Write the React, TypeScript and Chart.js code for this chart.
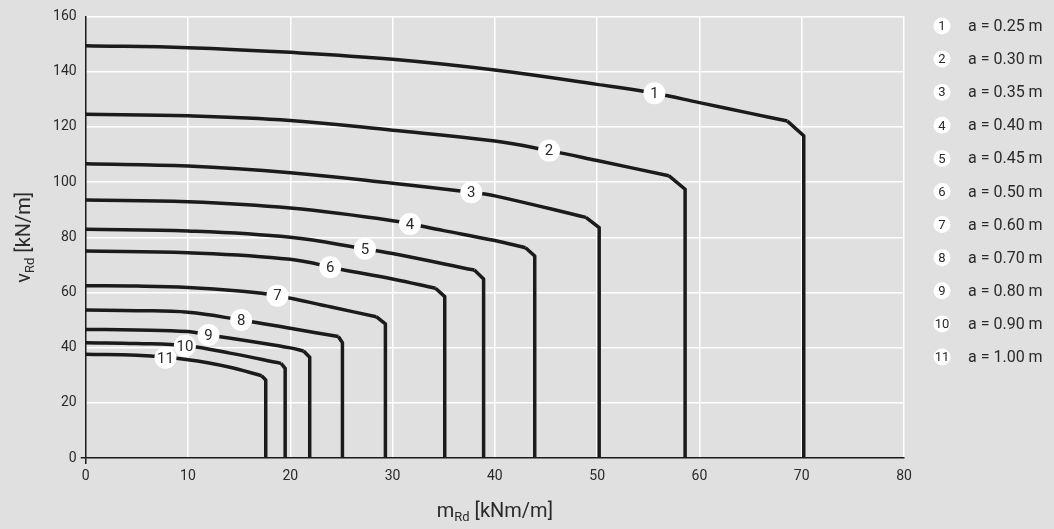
import { useEffect, useRef } from "react";
import { Chart, registerables } from "chart.js";

Chart.register(...registerables);

// Curve data: m_Rd (x) and v_Rd (y) for the curved part of each line
const curve1M = [0, 10, 20, 30, 40, 50, 55.6, 60, 65, 68.6];
const curve1V = [149.4, 148.7, 147.0, 144.5, 140.6, 135.4, 132.2, 128.8, 124.9, 122.1];
const curve2M = [0, 10, 20, 30, 40, 45.3, 50, 57.0];
const curve2V = [124.6, 124.0, 122.3, 118.8, 114.9, 111.4, 107.8, 102.3];
const curve3M = [0, 10, 20, 30, 37.7, 40, 48.9];
const curve3V = [106.6, 105.8, 103.4, 99.6, 96.3, 95.0, 87.2];
const curve4M = [0, 10, 20, 30, 35, 40, 43.0];
const curve4V = [93.5, 92.9, 90.6, 86.0, 82.4, 78.8, 76.2];
const curve5M = [0, 10, 20, 27.3, 30, 38.0];
const curve5V = [82.9, 82.3, 80.0, 75.8, 74.1, 68.1];
const curve6M = [0, 10, 20, 25, 30, 34.2];
const curve6V = [75.0, 74.4, 72.0, 68.3, 64.9, 61.5];
const curve7M = [0, 5, 10, 15, 18.75, 24, 28.4];
const curve7V = [62.4, 62.3, 61.8, 60.5, 58.8, 54.7, 51.2];
const curve8M = [0, 5, 10, 15.2, 20, 24.7];
const curve8V = [53.6, 53.4, 52.8, 50.0, 47.0, 44.0];
const curve9M = [0, 5, 10, 12, 17.3, 20, 21.3];
const curve9V = [46.6, 46.4, 45.8, 44.6, 41.6, 39.9, 38.8];
const curve10M = [0, 5, 10, 14.1, 19.1];
const curve10V = [41.8, 41.5, 40.6, 38.0, 34.3];
const curve11M = [0, 5, 10, 14.1, 17.2];
const curve11V = [37.6, 37.2, 35.6, 32.9, 29.8];

// Chamfer end points (then vertical down to 0)
const endM = [70.2, 58.6, 50.2, 43.9, 38.9, 35.1, 29.3, 25.1, 21.9, 19.5, 17.6];
const endV = [116.8, 97.4, 83.5, 73.2, 64.9, 58.5, 48.6, 41.8, 36.5, 32.5, 28.3];

// Curve numbers and where their badges sit (m_Rd position)
const curveNumbers = ["1", "2", "3", "4", "5", "6", "7", "8", "9", "10", "11"];
const labelM = [55.6, 45.3, 37.7, 31.7, 27.3, 23.9, 18.75, 15.2, 12.0, 9.7, 7.8];
const legendTexts = [
  "a = 0.25 m", "a = 0.30 m", "a = 0.35 m", "a = 0.40 m", "a = 0.45 m", "a = 0.50 m",
  "a = 0.60 m", "a = 0.70 m", "a = 0.80 m", "a = 0.90 m", "a = 1.00 m",
];

const curvesM = [curve1M, curve2M, curve3M, curve4M, curve5M, curve6M, curve7M, curve8M, curve9M, curve10M, curve11M];
const curvesV = [curve1V, curve2V, curve3V, curve4V, curve5V, curve6V, curve7V, curve8V, curve9V, curve10V, curve11V];

const FONT = "Roboto, 'Noto Sans', sans-serif";
const LINE = "#1b1b1b";
const TEXT = "#2a2a2a";
const BG = "#e0e0e0";

function interp(ms: number[], vs: number[], x: number) {
  for (let i = 0; i < ms.length - 1; i++) {
    if (x >= ms[i] && x <= ms[i + 1]) {
      const t = (x - ms[i]) / (ms[i + 1] - ms[i]);
      return vs[i] + t * (vs[i + 1] - vs[i]);
    }
  }
  return vs[vs.length - 1];
}

function drawSubTitle(ctx: CanvasRenderingContext2D, main: string, sub: string, rest: string, cx: number, cy: number, rotate: boolean) {
  ctx.save();
  ctx.translate(cx, cy);
  if (rotate) ctx.rotate(-Math.PI / 2);
  ctx.fillStyle = TEXT;
  ctx.textBaseline = "alphabetic";
  ctx.textAlign = "left";
  const big = `20px ${FONT}`;
  const small = `13px ${FONT}`;
  ctx.font = big;
  const w1 = ctx.measureText(main).width;
  const w3 = ctx.measureText(rest).width;
  ctx.font = small;
  const w2 = ctx.measureText(sub).width;
  const total = w1 + w2 + w3;
  let x = -total / 2;
  const base = 7;
  ctx.font = big;
  ctx.fillText(main, x, base);
  x += w1;
  ctx.font = small;
  ctx.fillText(sub, x, base + 4);
  x += w2;
  ctx.font = big;
  ctx.fillText(rest, x, base);
  ctx.restore();
}

const decorPlugin = {
  id: "decor",
  beforeDraw(chart: any) {
    const ctx = chart.ctx;
    ctx.save();
    ctx.fillStyle = BG;
    ctx.fillRect(0, 0, chart.width, chart.height);
    ctx.restore();
  },
  afterDatasetsDraw(chart: any) {
    const ctx = chart.ctx;
    const xs = chart.scales.x;
    const ys = chart.scales.y;
    ctx.save();
    curveNumbers.forEach((num, i) => {
      const m = labelM[i];
      const v = interp(curvesM[i], curvesV[i], m);
      const px = xs.getPixelForValue(m);
      const py = ys.getPixelForValue(v);
      ctx.beginPath();
      ctx.arc(px, py, 11, 0, Math.PI * 2);
      ctx.fillStyle = "#ffffff";
      ctx.fill();
      ctx.fillStyle = TEXT;
      ctx.font = `15px ${FONT}`;
      ctx.textAlign = "center";
      ctx.textBaseline = "middle";
      ctx.fillText(num, px, py + 1);
    });
    ctx.restore();
  },
  afterDraw(chart: any) {
    const ctx = chart.ctx;
    const area = chart.chartArea;
    ctx.save();
    legendTexts.forEach((t, i) => {
      const cy = 26 + i * 33.1;
      const cx = 942;
      ctx.beginPath();
      ctx.arc(cx, cy, 8.5, 0, Math.PI * 2);
      ctx.fillStyle = "#ffffff";
      ctx.fill();
      ctx.fillStyle = TEXT;
      ctx.font = `13px ${FONT}`;
      ctx.textAlign = "center";
      ctx.textBaseline = "middle";
      ctx.fillText(curveNumbers[i], cx, cy + 1);
      ctx.font = `16px ${FONT}`;
      ctx.textAlign = "left";
      ctx.fillText(t, 968, cy + 1);
    });
    ctx.restore();
    drawSubTitle(ctx, "m", "Rd", " [kNm/m]", (area.left + area.right) / 2, 510, false);
    drawSubTitle(ctx, "v", "Rd", " [kN/m]", 23, (area.top + area.bottom) / 2, true);
  },
};

export default function App() {
  const ref = useRef<HTMLCanvasElement | null>(null);
  useEffect(() => {
    document.body.style.margin = "0";
    document.body.style.background = BG;
    const canvas = ref.current;
    if (!canvas) return;
    const datasets: any[] = [];
    curvesM.forEach((ms, i) => {
      const vs = curvesV[i];
      datasets.push({
        data: ms.map((m, j) => ({ x: m, y: vs[j] })),
        borderColor: LINE,
        borderWidth: 3.5,
        pointRadius: 0,
        showLine: true,
        tension: 0.4,
        borderJoinStyle: "round",
      });
      datasets.push({
        data: [
          { x: ms[ms.length - 1], y: vs[vs.length - 1] },
          { x: endM[i], y: endV[i] },
          { x: endM[i], y: 0 },
        ],
        borderColor: LINE,
        borderWidth: 3.5,
        pointRadius: 0,
        showLine: true,
        tension: 0,
        borderJoinStyle: "round",
      });
    });
    const tickColor = (c: any) => (c.tick && c.tick.value === 0 ? "#1b1b1b" : "rgba(0,0,0,0)");
    const gridColor = (c: any) => (c.tick && c.tick.value === 0 ? "rgba(0,0,0,0)" : "#ffffff");
    const chart = new Chart(canvas, {
      type: "scatter",
      data: { datasets },
      plugins: [decorPlugin],
      options: {
        animation: false,
        responsive: false,
        devicePixelRatio: 1,
        layout: { padding: { top: 16.5, right: 150, left: 0, bottom: 0 } },
        plugins: { legend: { display: false }, tooltip: { enabled: false }, title: { display: false } },
        scales: {
          x: {
            type: "linear",
            min: 0,
            max: 80,
            ticks: { stepSize: 10, color: TEXT, font: { family: FONT, size: 14 }, padding: 4 },
            grid: { color: gridColor, lineWidth: 1.5, tickLength: 6, tickColor, tickWidth: 1.5 } as any,
            border: { color: LINE, width: 1.5 },
            afterFit: (s: any) => { s.height = 71; },
          },
          y: {
            type: "linear",
            min: 0,
            max: 160,
            ticks: { stepSize: 20, color: TEXT, font: { family: FONT, size: 14 }, padding: 4 },
            grid: { color: gridColor, lineWidth: 1.5, tickLength: 5, tickColor, tickWidth: 1.5 } as any,
            border: { color: LINE, width: 1.5 },
            afterFit: (s: any) => { s.width = 85.7; },
          },
        },
      } as any,
    });
    return () => chart.destroy();
  }, []);
  return (
    <canvas ref={ref} width={1054} height={529} style={{ display: "block", width: 1054, height: 529 }} />
  );
}
